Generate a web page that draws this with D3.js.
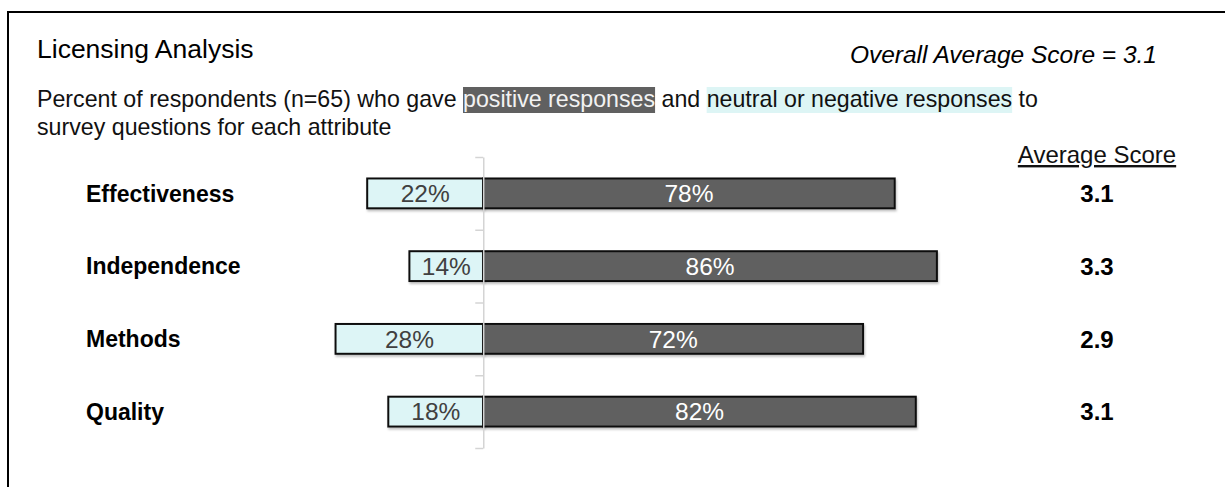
<!DOCTYPE html>
<html>
<head>
<meta charset="utf-8">
<script src="https://cdn.jsdelivr.net/npm/d3@7"></script>
<style>
    html, body { margin: 0; padding: 0; background: #fff; }
    svg { display: block; font-family: 'Liberation Sans', Arial, sans-serif; }
</style>
</head>
<body>
<div class="chart-container"></div>
<script>
// chart data
const categories = ['Effectiveness', 'Independence', 'Methods', 'Quality'];
const negativeShare = [22, 14, 28, 18];
const positiveShare = [78, 86, 72, 82];
const averageScores = [3.1, 3.3, 2.9, 3.1];
const overallScore = 3.1;
const sampleSize = 65;

const width = 1225;
const height = 487;

const rows = categories.map((name, i) => ({
    name: name,
    negative: negativeShare[i],
    positive: positiveShare[i],
    score: averageScores[i]
}));

const svg = d3.select('.chart-container')
    .append('svg')
    .attr('width', width)
    .attr('height', height);

// soft shadow for bars
const defs = svg.append('defs');
const shadow = defs.append('filter')
    .attr('id', 'bar-shadow')
    .attr('x', '-5%').attr('y', '-20%')
    .attr('width', '110%').attr('height', '150%');
shadow.append('feDropShadow')
    .attr('dx', 1).attr('dy', 2)
    .attr('stdDeviation', 1.2)
    .attr('flood-color', '#000')
    .attr('flood-opacity', 0.25);

// frame
svg.append('rect')
    .attr('x', 8)
    .attr('y', 12)
    .attr('width', width + 20)
    .attr('height', height + 20)
    .style('fill', 'none')
    .style('stroke', '#000')
    .style('stroke-width', 2);

// header
svg.append('text')
    .attr('x', 37)
    .attr('y', 58)
    .text('Licensing Analysis')
    .style('font-size', '26.5px')
    .style('fill', '#000');

svg.append('text')
    .attr('x', 1157)
    .attr('y', 63)
    .attr('text-anchor', 'end')
    .text(`Overall Average Score = ${overallScore}`)
    .style('font-size', '24.5px')
    .style('font-style', 'italic')
    .style('fill', '#000');

// subtitle with highlighted key words
const subtitleParts = [
    { text: `Percent of respondents (n=${sampleSize}) who gave `, bg: null, color: '#111' },
    { text: 'positive responses', bg: '#606060', color: '#f2f2f2' },
    { text: ' and ', bg: null, color: '#111' },
    { text: 'neutral or negative responses', bg: '#ddf5f5', color: '#111' },
    { text: ' to', bg: null, color: '#111' }
];

const subtitleSize = '23.2px';
const subtitle = svg.append('g').attr('class', 'subtitle');
let cursor = 37;
subtitleParts.forEach(part => {
    const bgRect = subtitle.append('rect');
    const t = subtitle.append('text')
        .attr('x', cursor)
        .attr('y', 107)
        .attr('xml:space', 'preserve')
        .text(part.text)
        .style('font-size', subtitleSize)
        .style('white-space', 'pre')
        .style('fill', part.color);
    const w = t.node().getComputedTextLength();
    if (part.bg) {
        bgRect
            .attr('x', cursor)
            .attr('y', 87)
            .attr('width', w)
            .attr('height', 26)
            .style('fill', part.bg);
    } else {
        bgRect.remove();
    }
    cursor += w;
});

subtitle.append('text')
    .attr('x', 37)
    .attr('y', 135)
    .text('survey questions for each attribute')
    .style('font-size', subtitleSize)
    .style('fill', '#111');

// scales
const xScale = d3.scaleLinear()
    .domain([-30, 90])
    .range([325, 958]);

const yScale = d3.scaleBand()
    .domain(categories)
    .range([157, 448])
    .paddingInner(0.59)
    .paddingOuter(0.295);

// bars
const barGroup = svg.append('g').attr('class', 'bars');

barGroup.selectAll('.bar-negative')
    .data(rows)
    .enter()
        .append('rect')
        .attr('class', 'bar-negative')
        .attr('x', d => xScale(-d.negative))
        .attr('y', d => yScale(d.name))
        .attr('width', d => xScale(0) - xScale(-d.negative))
        .attr('height', yScale.bandwidth())
        .attr('filter', 'url(#bar-shadow)')
        .style('fill', '#ddf5f6')
        .style('stroke', '#111')
        .style('stroke-width', 2);

barGroup.selectAll('.bar-positive')
    .data(rows)
    .enter()
        .append('rect')
        .attr('class', 'bar-positive')
        .attr('x', xScale(0))
        .attr('y', d => yScale(d.name))
        .attr('width', d => xScale(d.positive) - xScale(0))
        .attr('height', yScale.bandwidth())
        .attr('filter', 'url(#bar-shadow)')
        .style('fill', '#606060')
        .style('stroke', '#111')
        .style('stroke-width', 2);

// bar labels
barGroup.selectAll('.label-negative')
    .data(rows)
    .enter()
        .append('text')
        .attr('class', 'label-negative')
        .attr('x', d => (xScale(-d.negative) + xScale(0)) / 2)
        .attr('y', d => yScale(d.name) + yScale.bandwidth() / 2)
        .attr('text-anchor', 'middle')
        .attr('dy', '0.36em')
        .text(d => `${d.negative}%`)
        .style('font-size', '24.5px')
        .style('fill', '#404040');

barGroup.selectAll('.label-positive')
    .data(rows)
    .enter()
        .append('text')
        .attr('class', 'label-positive')
        .attr('x', d => (xScale(0) + xScale(d.positive)) / 2)
        .attr('y', d => yScale(d.name) + yScale.bandwidth() / 2)
        .attr('text-anchor', 'middle')
        .attr('dy', '0.36em')
        .text(d => `${d.positive}%`)
        .style('font-size', '24.5px')
        .style('fill', '#fff');

// category axis, ticks sit on band boundaries
const tickScale = d3.scaleLinear()
    .domain([0, categories.length])
    .range([157, 448]);

const yAxis = d3.axisLeft(tickScale)
    .tickValues(d3.range(categories.length + 1))
    .tickFormat('')
    .tickSizeInner(8)
    .tickSizeOuter(0);

const yAxisDraw = svg.append('g')
    .attr('class', 'y axis')
    .attr('transform', `translate(${xScale(0)}, 0)`)
    .call(yAxis);

yAxisDraw.selectAll('path, line')
    .style('stroke', '#d4d4d4')
    .style('stroke-width', 1.5);

// category names
svg.append('g')
    .attr('class', 'category-labels')
    .selectAll('text')
    .data(rows)
    .enter()
        .append('text')
        .attr('x', 86)
        .attr('y', d => yScale(d.name) + yScale.bandwidth() / 2)
        .attr('dy', '0.36em')
        .text(d => d.name)
        .style('font-size', '23px')
        .style('font-weight', 'bold')
        .style('fill', '#000');

// average score column
const scoreX = 1097;

svg.append('text')
    .attr('x', scoreX)
    .attr('y', 163)
    .attr('text-anchor', 'middle')
    .text('Average Score')
    .style('font-size', '24px')
    .style('text-decoration', 'underline')
    .style('fill', '#111');

svg.append('g')
    .attr('class', 'scores')
    .selectAll('text')
    .data(rows)
    .enter()
        .append('text')
        .attr('x', scoreX)
        .attr('y', d => yScale(d.name) + yScale.bandwidth() / 2)
        .attr('dy', '0.36em')
        .attr('text-anchor', 'middle')
        .text(d => d3.format('.1f')(d.score))
        .style('font-size', '24px')
        .style('font-weight', 'bold')
        .style('fill', '#000');
</script>
</body>
</html>
